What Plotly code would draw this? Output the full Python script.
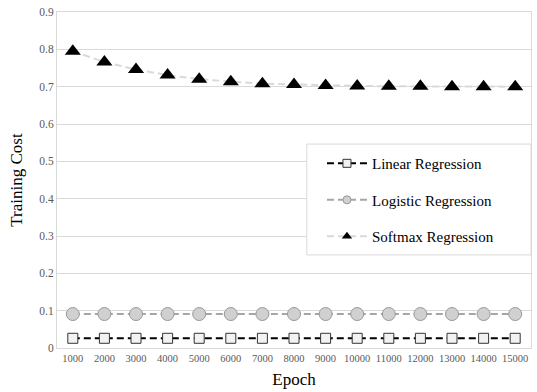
import plotly.graph_objects as go

epochs = ["1000", "2000", "3000", "4000", "5000", "6000", "7000", "8000",
          "9000", "10000", "11000", "12000", "13000", "14000", "15000"]
linear = [0.026] * 15
logistic = [0.091] * 15
softmax = [0.795, 0.766, 0.746, 0.731, 0.72, 0.713, 0.708, 0.706,
           0.703, 0.702, 0.701, 0.701, 0.70, 0.70, 0.70]
y_ticks = [0, 0.1, 0.2, 0.3, 0.4, 0.5, 0.6, 0.7, 0.8, 0.9]
y_tick_text = ["0", "0.1", "0.2", "0.3", "0.4", "0.5", "0.6", "0.7", "0.8", "0.9"]
series_names = ["Linear Regression", "Logistic Regression", "Softmax Regression"]

FONT = "Liberation Serif"
DASH = "7px,4px"

styles = [
    dict(line=dict(color="black", width=2, dash=DASH),
         marker=dict(symbol="square", color="#f2f2f2", line=dict(color="#333333", width=1)),
         size=10, lsize=8),
    dict(line=dict(color="#a6a6a6", width=2, dash=DASH),
         marker=dict(symbol="circle", color="#d0d0d0", line=dict(color="#999999", width=1)),
         size=13, lsize=8),
    dict(line=dict(color="#d9d9d9", width=2, dash=DASH),
         marker=dict(symbol="triangle-up", color="black", line=dict(color="black", width=0)),
         size=14, lsize=9),
]
values = [linear, logistic, softmax]

fig = go.Figure()
for name, vals, st in zip(series_names, values, styles):
    m = dict(st["marker"])
    m["size"] = st["size"]
    fig.add_trace(go.Scatter(x=epochs, y=vals, name=name, mode="lines+markers",
                             line=st["line"], marker=m, showlegend=False))
for i, (name, st) in enumerate(zip(series_names, styles)):
    m = dict(st["marker"])
    m["size"] = st["lsize"]
    fig.add_trace(go.Scatter(x=[None], y=[None], name=name, mode="lines+markers",
                             line=st["line"], marker=m, showlegend=True,
                             legendgroup=str(i)))

# legend frame
fig.add_shape(type="rect", xref="paper", yref="paper",
              x0=0.527, x1=1.0, y0=0.277, y1=0.607,
              line=dict(color="#d9d9d9", width=1), fillcolor="white", layer="above")

fig.update_layout(
    width=537, height=392,
    margin=dict(l=57, r=6, t=12, b=44, autoexpand=False),
    paper_bgcolor="white", plot_bgcolor="white",
    font=dict(family=FONT, color="#595959"),
    legend=dict(
        x=0.559, y=0.598, xanchor="left", yanchor="top",
        bgcolor="rgba(0,0,0,0)", borderwidth=0,
        font=dict(family=FONT, size=15, color="black"),
        traceorder="grouped", tracegroupgap=14,
        itemwidth=40,
    ),
    xaxis=dict(
        type="category", tickangle=0, range=[-0.5, len(epochs) - 0.5],
        tickfont=dict(family=FONT, size=10.5, color="#595959"),
        showgrid=False, showline=True, linecolor="#d9d9d9", linewidth=1,
        mirror=True, ticks="",
        title=dict(text="Epoch", font=dict(family=FONT, size=17, color="black"),
                   standoff=10),
    ),
    yaxis=dict(
        range=[0, 0.9], tickvals=y_ticks, ticktext=y_tick_text,
        tickfont=dict(family=FONT, size=11.5, color="#595959"),
        showgrid=True, gridcolor="#d9d9d9", gridwidth=1,
        showline=True, linecolor="#d9d9d9", linewidth=1, mirror=True,
        zeroline=False, ticks="",
        title=dict(text="Training Cost", font=dict(family=FONT, size=17, color="black"),
                   standoff=12),
    ),
)

fig.write_html("out.html", config={"displayModeBar": False},
               post_script="document.body.style.margin='0';")
